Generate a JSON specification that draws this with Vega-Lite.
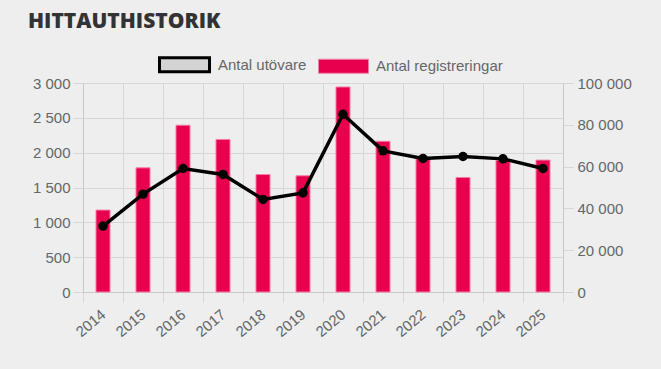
{
  "$schema": "https://vega.github.io/schema/vega-lite/v6.json",
  "width": 480,
  "height": 209,
  "autosize": {"type": "none"},
  "padding": {"left": 83, "top": 83, "right": 98, "bottom": 77},
  "background": "#eeeeee",
  "title": {
    "text": "HITTAUTHISTORIK",
    "anchor": "start",
    "frame": "group",
    "font": "Open Sans",
    "fontSize": 21,
    "fontWeight": 800,
    "color": "#333333",
    "baseline": "top",
    "dx": -55,
    "dy": -6,
    "offset": 0
  },
  "data": {
    "values": [
      {"year": "2014", "reg": 39200, "utov": 946},
      {"year": "2015", "reg": 59400, "utov": 1405},
      {"year": "2016", "reg": 79800, "utov": 1773},
      {"year": "2017", "reg": 73000, "utov": 1687},
      {"year": "2018", "reg": 56200, "utov": 1329},
      {"year": "2019", "reg": 55600, "utov": 1423},
      {"year": "2020", "reg": 98100, "utov": 2551},
      {"year": "2021", "reg": 72100, "utov": 2026},
      {"year": "2022", "reg": 64500, "utov": 1916},
      {"year": "2023", "reg": 54800, "utov": 1945},
      {"year": "2024", "reg": 63000, "utov": 1911},
      {"year": "2025", "reg": 63100, "utov": 1773}
    ]
  },
  "encoding": {
    "x": {
      "field": "year",
      "type": "ordinal",
      "scale": {"paddingInner": 0, "paddingOuter": 0},
      "axis": {
        "title": null,
        "labelAngle": -40,
        "labelAlign": "right",
        "labelBaseline": "middle",
        "labelPadding": 10,
        "tickBand": "extent",
        "tickSize": 10,
        "grid": true
      }
    }
  },
  "layer": [
    {
      "mark": {"type": "bar", "width": 14},
      "encoding": {
        "y": {
          "field": "reg",
          "type": "quantitative",
          "scale": {"domain": [0, 100000], "nice": false},
          "axis": {
            "orient": "right",
            "title": null,
            "values": [0, 20000, 40000, 60000, 80000, 100000],
            "format": ",d",
            "grid": false,
            "tickSize": 10,
            "labelPadding": 4
          }
        },
        "fill": {
          "datum": "Antal registreringar",
          "scale": {"domain": ["Antal utövare", "Antal registreringar"], "range": ["#d3d3d3", "#e8004f"]},
          "legend": {
            "title": null,
            "orient": "none",
            "direction": "horizontal",
            "legendX": 75,
            "legendY": -45,
            "padding": 0,
            "symbolType": "M-1,-0.28L1,-0.28L1,0.28L-1,0.28Z",
            "symbolSize": 2500,
            "symbolOpacity": 1,
            "labelOffset": 7,
            "columnPadding": 9,
            "labelFont": "Liberation Sans",
            "labelFontSize": 15,
            "labelColor": "#666666"
          }
        },
        "stroke": {
          "datum": "Antal registreringar",
          "scale": {"domain": ["Antal utövare", "Antal registreringar"], "range": ["#000000", "#ef7fa3"]}
        },
        "strokeWidth": {
          "datum": "Antal registreringar",
          "scale": {"domain": ["Antal utövare", "Antal registreringar"], "range": [3, 1]}
        }
      }
    },
    {
      "mark": {
        "type": "line",
        "color": "black",
        "strokeWidth": 3.5,
        "point": {"filled": true, "size": 90, "color": "black"}
      },
      "encoding": {
        "y": {
          "field": "utov",
          "type": "quantitative",
          "scale": {"domain": [0, 3000], "nice": false},
          "axis": {
            "orient": "left",
            "title": null,
            "values": [0, 500, 1000, 1500, 2000, 2500, 3000],
            "format": ",d",
            "grid": true,
            "tickSize": 10,
            "labelPadding": 3
          }
        }
      }
    }
  ],
  "resolve": {"scale": {"y": "independent"}},
  "config": {
    "locale": {"number": {"decimal": ",", "thousands": " ", "grouping": [3], "currency": ["", " kr"]}},
    "view": {"stroke": null},
    "axis": {
      "labelFont": "Liberation Sans",
      "labelFontSize": 15,
      "labelColor": "#666666",
      "gridColor": "#d6d6d6",
      "tickColor": "#d6d6d6",
      "domainColor": "#c8c8c8",
      "labelOverlap": false
    }
  }
}
